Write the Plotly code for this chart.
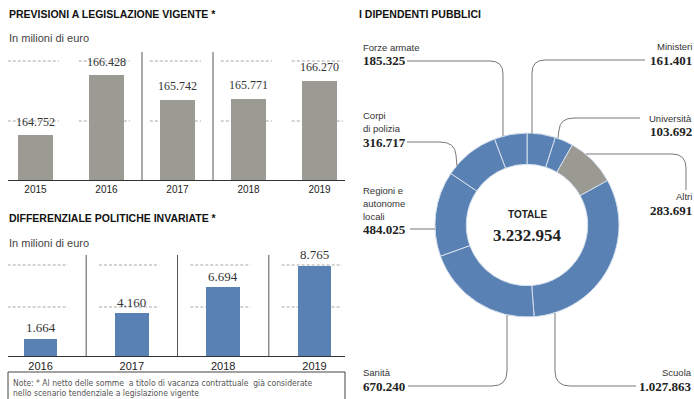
import plotly.graph_objects as go

# ---------------- data ----------------
years1 = ["2015", "2016", "2017", "2018", "2019"]
vals1 = [164752, 166428, 165742, 165771, 166270]

years2 = ["2016", "2017", "2018", "2019"]
vals2 = [1664, 4160, 6694, 8765]

pie_labels = ["Ministeri", "Università", "Altri", "Scuola", "Sanità",
              "Regioni e autonome locali", "Corpi di polizia", "Forze armate"]
pie_values = [161401, 103692, 283691, 1027863, 670240, 484025, 316717, 185325]

grid1_vals = [166819, 165143]
grid2_vals = [8845, 4763]

# ---------------- style ----------------
W, H = 694, 399
def px(x):
    return x / W
def py(y):
    return 1 - y / H

NARROW = "Liberation Sans Narrow, DejaVu Sans Condensed, Arial Narrow, sans-serif"
SANS = "Liberation Sans, Arial, sans-serif"
SERIF = "Liberation Serif, Times New Roman, serif"
GRAY_BAR = "#9c9b93"
BLUE = "#5a81b3"
TXT = "#2a2a2a"

def it(n):
    return f"{n:,}".replace(",", ".")

fig = go.Figure()

# chart 1 bars
x1 = list(range(len(years1)))
fig.add_trace(go.Bar(x=x1, y=vals1, marker=dict(color=GRAY_BAR, line=dict(width=0)),
                     width=0.49, xaxis="x", yaxis="y", hoverinfo="skip", showlegend=False))
# chart 2 bars
x2 = list(range(len(years2)))
fig.add_trace(go.Bar(x=x2, y=vals2, marker=dict(color=BLUE, line=dict(width=0)),
                     width=0.37, xaxis="x2", yaxis="y2", hoverinfo="skip", showlegend=False))

# donut
pie_colors = [BLUE if l != "Altri" else "#9a9a92" for l in pie_labels]
fig.add_trace(go.Pie(labels=pie_labels, values=pie_values, hole=0.66, sort=False,
                     direction="clockwise", rotation=0, textinfo="none",
                     marker=dict(colors=pie_colors, line=dict(color="#d4e0ee", width=1)),
                     domain=dict(x=[px(435), px(619)], y=[py(317), py(133)]),
                     hoverinfo="skip", showlegend=False))

shapes = []
annotations = []

# grid segments chart 1
for g in grid1_vals:
    for i in x1:
        shapes.append(dict(type="line", xref="x", yref="y", x0=i - 0.39, x1=i + 0.33, y0=g, y1=g,
                           line=dict(color="#a8a8a8", width=1, dash="3px,2px"), layer="below"))
for g in grid2_vals:
    for i in x2:
        shapes.append(dict(type="line", xref="x2", yref="y2", x0=i - 0.36, x1=i + 0.3, y0=g, y1=g,
                           line=dict(color="#a8a8a8", width=1, dash="3px,2px"), layer="below"))

# vertical separators
for s in [1.5, 2.5]:
    shapes.append(dict(type="line", xref="x", yref="paper", x0=s, x1=s, y0=py(180), y1=py(52),
                       line=dict(color="#555", width=1)))
for s in [0.5, 1.5, 2.5]:
    shapes.append(dict(type="line", xref="x2", yref="paper", x0=s, x1=s, y0=py(356), y1=py(255),
                       line=dict(color="#555", width=1)))

# value labels
for i, v in zip(x1, vals1):
    annotations.append(dict(x=i, y=v, xref="x", yref="y", text=it(v), showarrow=False,
                            yanchor="middle", yshift=13.5,
                            font=dict(family=SERIF, size=12, color="#333")))
for i, v in zip(x2, vals2):
    annotations.append(dict(x=i, y=v, xref="x2", yref="y2", text=it(v), showarrow=False,
                            yanchor="middle", yshift=11,
                            font=dict(family=SERIF, size=13, color="#333")))

# titles
def ann(x, y, text, size, family=SANS, color=TXT, xanchor="left", bold=False):
    t = f"<b>{text}</b>" if bold else text
    annotations.append(dict(x=px(x), y=py(y), xref="paper", yref="paper", text=t, showarrow=False,
                            xanchor=xanchor, yanchor="middle",
                            font=dict(family=family, size=size, color=color)))

ann(7, 14, "PREVISIONI A LEGISLAZIONE VIGENTE *", 10.5, bold=True, color="#111")
ann(7, 38, "In milioni di euro", 11, color="#444")
ann(7, 218, "DIFFERENZIALE POLITICHE INVARIATE *", 10.5, bold=True, color="#111")
ann(7, 243, "In milioni di euro", 11, color="#444")
ann(357, 14, "I DIPENDENTI PUBBLICI", 10.5, bold=True, color="#111")

# note box
shapes.append(dict(type="rect", xref="paper", yref="paper", x0=px(8), x1=px(345), y0=py(402), y1=py(372),
                   line=dict(color="#444", width=1)))
ann(11, 383, "Note: * Al netto delle somme  a titolo di vacanza contrattuale  già considerate", 8.5,
    family=NARROW, color="#555")
ann(11, 393, "nello scenario tendenziale a legislazione vigente", 8.5, family=NARROW, color="#555")

# donut labels
lab = {l: v for l, v in zip(pie_labels, pie_values)}
def lbl(x, ys, lines, value, xanchor):
    for yy, t in zip(ys[:-1], lines):
        ann(x, yy, t, 9.5, color="#333", xanchor=xanchor)
    ann(x, ys[-1], it(value), 13, family=SERIF, color="#222", xanchor=xanchor, bold=True)

lbl(361, [47, 61], ["Forze armate"], lab["Forze armate"], "left")
lbl(694, [46, 60], ["Ministeri"], lab["Ministeri"], "right")
lbl(361, [115, 128, 142], ["Corpi", "di polizia"], lab["Corpi di polizia"], "left")
lbl(694, [118, 131], ["Università"], lab["Università"], "right")
lbl(361, [190, 203, 216, 229], ["Regioni e", "autonome", "locali"], lab["Regioni e autonome locali"], "left")
lbl(694, [196, 210], ["Altri"], lab["Altri"], "right")
lbl(361, [372, 386], ["Sanità"], lab["Sanità"], "left")
lbl(694, [372, 386], ["Scuola"], lab["Scuola"], "right")

# center total
ann(527, 214, "TOTALE", 10, family=SANS, color="#222", xanchor="center", bold=True)
ann(527, 235, it(sum(pie_values)), 17, family=SERIF, color="#222", xanchor="center", bold=True)

# leader lines (pixel coords -> paper)
def path(cmds):
    out = []
    for c in cmds:
        if isinstance(c, str):
            out.append(c)
        else:
            out.append(f"{px(c[0]):.5f},{py(c[1]):.5f}")
    return " ".join(out)

leaders = [
    ["M", (407, 61), "L", (490, 61), "Q", (503, 61), (503, 74), "L", (503, 136)],
    ["M", (645, 60), "L", (545, 60), "Q", (532, 60), (532, 73), "L", (532, 134)],
    ["M", (640, 118), "L", (574, 118), "Q", (560, 118), (559, 130), "L", (558, 138)],
    ["M", (407, 142), "L", (440, 142), "Q", (455, 142), (456, 155), "L", (457, 166)],
    ["M", (410, 229), "L", (435, 229)],
    ["M", (586, 154), "L", (672, 154), "Q", (686, 154), (686, 168), "L", (686, 190)],
    ["M", (408, 386), "L", (492, 386), "Q", (507, 386), (507, 371), "L", (507, 315)],
    ["M", (555, 313), "L", (555, 371), "Q", (555, 386), (570, 386), "L", (636, 386)],
]
for l in leaders:
    shapes.append(dict(type="path", xref="paper", yref="paper", path=path(l),
                       line=dict(color="#777", width=1)))

axis_common = dict(showgrid=False, zeroline=False, fixedrange=True)
fig.update_layout(
    width=W, height=H, margin=dict(l=0, r=0, t=0, b=0),
    paper_bgcolor="white", plot_bgcolor="rgba(0,0,0,0)",
    separators=",.", bargap=0,
    xaxis=dict(domain=[px(8), px(345)], range=[-0.387, 4.359], tickmode="array", tickvals=x1,
               ticktext=years1, showline=True, linecolor="#333", linewidth=1, ticks="",
               tickfont=dict(family=SANS, size=10, color="#222"), anchor="y", **axis_common),
    yaxis=dict(domain=[py(180), py(52)], range=[163495, 163495 + 128 / 0.0358], visible=False,
               anchor="x", **axis_common),
    xaxis2=dict(domain=[px(8), px(345)], range=[-0.356, 3.334], tickmode="array", tickvals=x2,
                ticktext=years2, showline=True, linecolor="#333", linewidth=1, ticks="",
                tickfont=dict(family=SANS, size=11, color="#222"), anchor="y2", **axis_common),
    yaxis2=dict(domain=[py(356), py(255)], range=[0, 101 / 0.010288], visible=False,
                anchor="x2", **axis_common),
    shapes=shapes, annotations=annotations,
)

fig.write_html("out.html")
